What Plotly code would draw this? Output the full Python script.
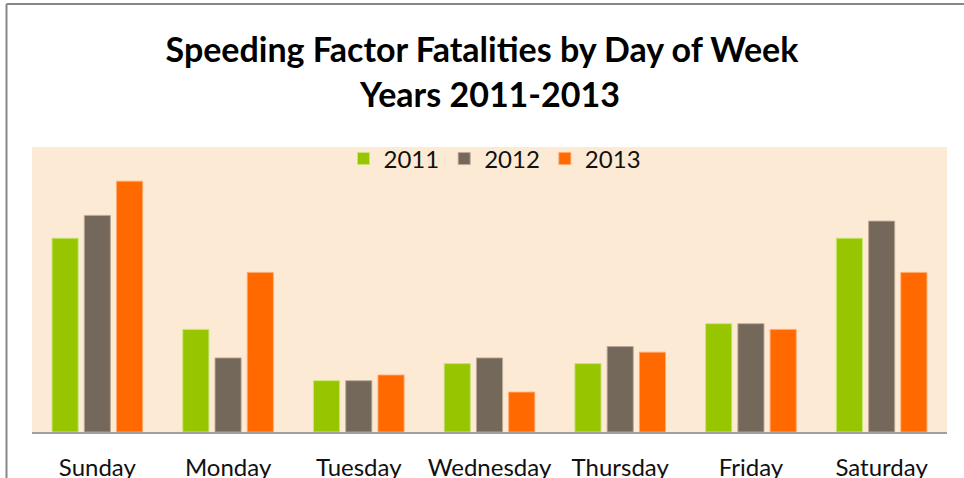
import plotly.graph_objects as go

days = ["Sunday", "Monday", "Tuesday", "Wednesday", "Thursday", "Friday", "Saturday"]
fatal_2011 = [34, 18, 9, 12, 12, 19, 34]
fatal_2012 = [38, 13, 9, 13, 15, 19, 37]
fatal_2013 = [44, 28, 10, 7, 14, 18, 28]

series = [
    ("2011", fatal_2011, "#97C500", "rgba(200,230,120,0.9)"),
    ("2012", fatal_2012, "#736859", "rgba(190,170,150,0.9)"),
    ("2013", fatal_2013, "#FF6900", "rgba(255,170,110,0.9)"),
]

FONT = "Lato"

fig = go.Figure()
for name, vals, color, edge in series:
    fig.add_trace(go.Bar(
        x=days, y=vals, name=name,
        marker=dict(color=color, line=dict(color=edge, width=1)),
    ))

fig.update_layout(
    width=964, height=478,
    margin=dict(l=32, r=17, t=147, b=46),
    paper_bgcolor="white",
    plot_bgcolor="#FDEAD4",
    barmode="group",
    bargap=0.26,
    bargroupgap=0.19,
    font=dict(family=FONT, color="#111111"),
    title=dict(
        text="<b>Speeding Factor Fatalities by Day of Week</b>",
        font=dict(family=FONT, size=34, color="black"),
        x=0.5, xref="container", xanchor="center",
        y=1 - 50 / 478, yref="container", yanchor="middle",
    ),
    legend=dict(
        orientation="h", x=0.506, xanchor="center", y=0.958, yanchor="middle",
        bgcolor="rgba(0,0,0,0)", font=dict(family=FONT, size=24, color="#111111"),
    ),
    showlegend=True,
)

fig.add_annotation(
    text="<b>Years 2011-2013</b>", xref="paper", yref="paper",
    x=0.5, y=(432 - 93) / 285, xanchor="center", yanchor="middle",
    showarrow=False, font=dict(family=FONT, size=34, color="black"),
)

fig.update_xaxes(
    showline=True, linecolor="#A0A0A0", linewidth=2,
    ticks="", ticklabelstandoff=13, automargin=False,
    tickfont=dict(family=FONT, size=24, color="#111111"),
    showgrid=False,
)
fig.update_yaxes(range=[0, 50], visible=False, showgrid=False, automargin=False)

# chart frame along the top and left edges
fig.add_shape(type="line", xref="paper", yref="paper",
              x0=(6.5 - 32) / 915, x1=(6.5 - 32) / 915, y0=-0.3, y1=(432 - 4) / 285,
              line=dict(color="#878787", width=2))
fig.add_shape(type="line", xref="paper", yref="paper",
              x0=(6.5 - 32) / 915, x1=1.1, y0=(432 - 4) / 285, y1=(432 - 4) / 285,
              line=dict(color="#878787", width=2))

fig.write_html("out.html")
